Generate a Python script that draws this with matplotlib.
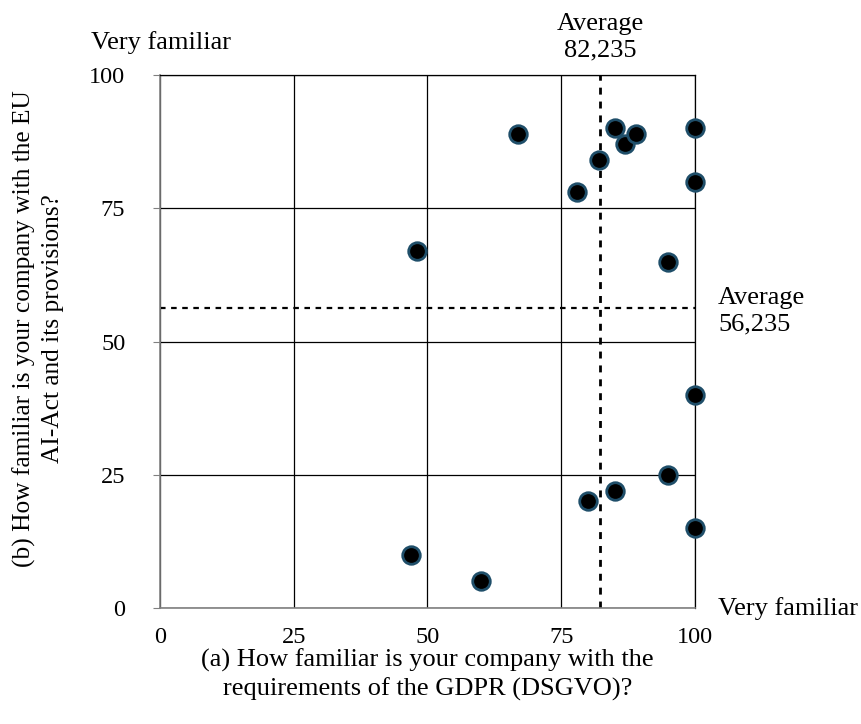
import matplotlib.pyplot as plt
import numpy as np

plt.rcParams['font.family'] = ['Liberation Serif', 'DejaVu Serif']

# familiarity scores per company
gdpr = [47, 60, 67, 48, 78, 82, 85, 87, 89, 100, 100, 95, 100, 95, 85, 80, 100]
ai_act = [10, 5, 89, 67, 78, 84, 90, 87, 89, 90, 80, 65, 40, 25, 22, 20, 15]
ticks = [0, 25, 50, 75, 100]

avg_x = np.mean(gdpr)
avg_y = np.mean(ai_act)

fs = 19
ls = 1.3

fig = plt.figure(figsize=(8.61, 7.24), dpi=100)
ax = fig.add_axes([0.1858, 0.1602, 0.6214, 0.7362])

ax.set_xlim(0, 100)
ax.set_ylim(0, 100)
ax.set_xticks(ticks)
ax.set_yticks(ticks)
ax.grid(True, color='black', linewidth=0.9)
ax.set_axisbelow(True)
for side in ['top', 'right']:
    ax.spines[side].set_color('black')
    ax.spines[side].set_linewidth(0.9)
for side in ['left', 'bottom']:
    ax.spines[side].set_color('#808080')
    ax.spines[side].set_linewidth(1.2)
ax.tick_params(axis='y', labelsize=17.5, length=5, color='#808080', pad=20)
ax.tick_params(axis='x', labelsize=17.5, length=0, pad=14)

ax.axvline(avg_x, color='black', linestyle=(0, (2.5, 2.5)), linewidth=2)
ax.axhline(avg_y, color='black', linestyle=(0, (2.5, 2.5)), linewidth=1.6)

ax.scatter(gdpr, ai_act, s=160, c='black', edgecolors='#1f4e69',
           linewidths=2, zorder=5, clip_on=False)

ax.text(avg_x, 102.5, 'Average\n' + f'{avg_x:.3f}'.replace('.', ','),
        ha='center', va='bottom', fontsize=fs, linespacing=ls)
ax.text(104.3, 55.7, 'Average\n' + f'{avg_y:.3f}'.replace('.', ','),
        ha='left', va='center', fontsize=fs, linespacing=ls)
ax.text(-12.8, 104, 'Very familiar', ha='left', va='bottom', fontsize=fs)
ax.text(104.3, 0, 'Very familiar', ha='left', va='center', fontsize=fs)

ax.set_xlabel('(a) How familiar is your company with the\nrequirements of the GDPR (DSGVO)?',
              fontsize=fs, linespacing=ls, labelpad=0)
ax.set_ylabel('(b) How familiar is your company with the EU\nAI-Act and its provisions?',
              fontsize=18.3, linespacing=1.35, labelpad=18)
ax.yaxis.label.set_y(0.525)

fig.savefig('out.png', dpi=100)
